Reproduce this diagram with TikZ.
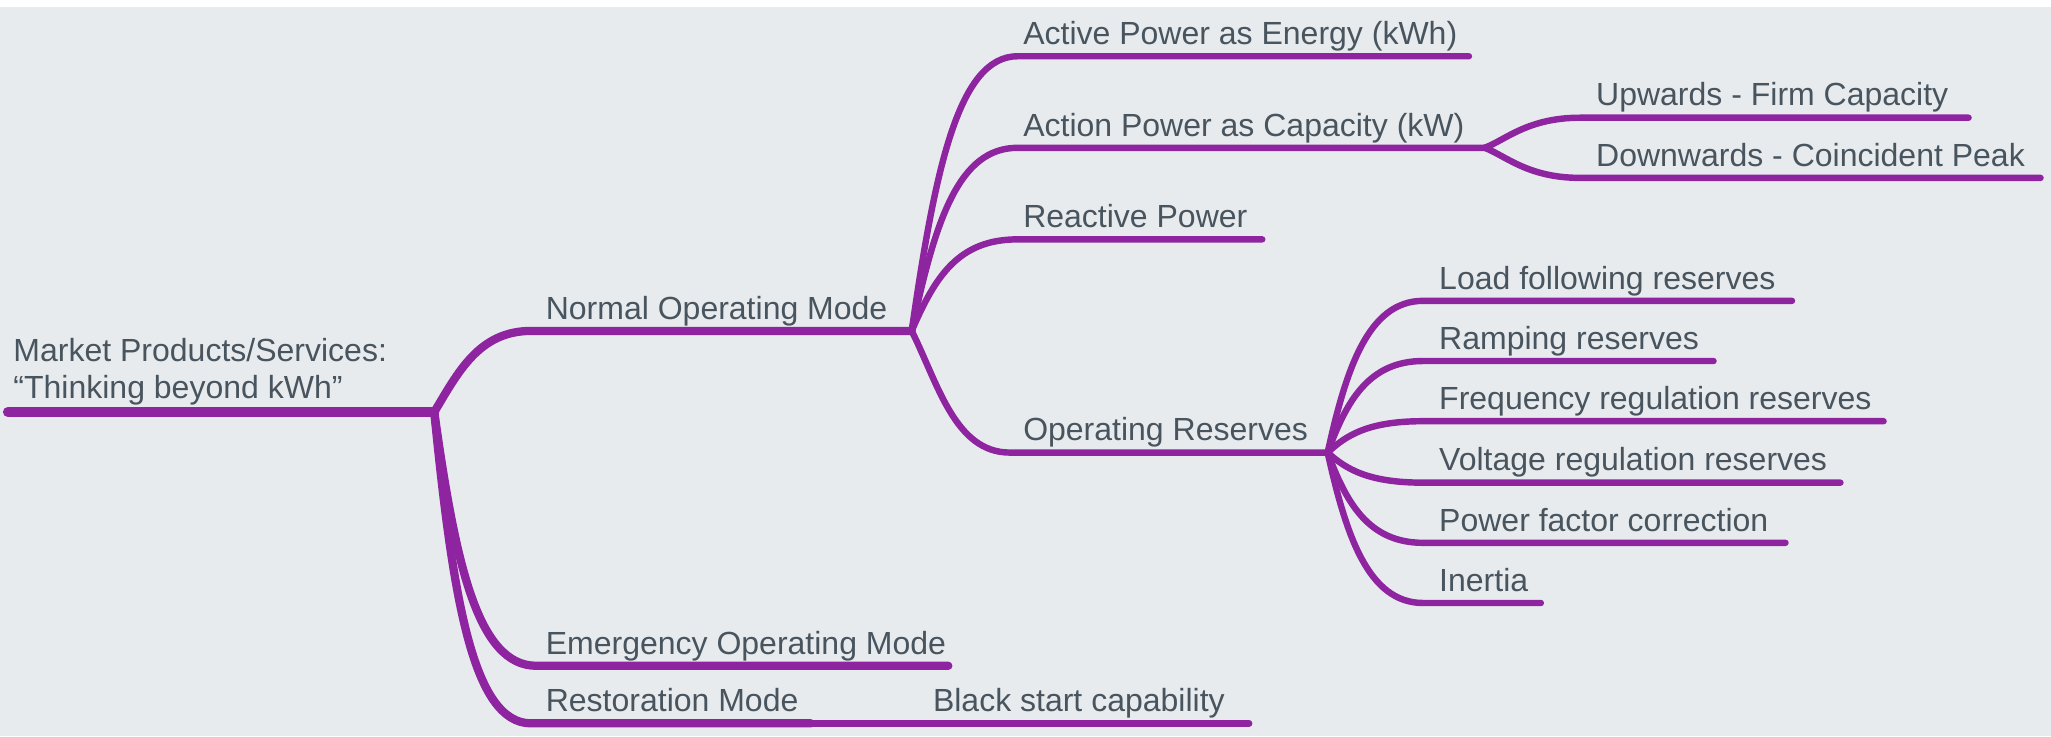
\documentclass[tikz,border=0pt]{standalone}
\usepackage{fontspec}
\setmainfont{Liberation Sans}
\usepackage{tikz}
\usetikzlibrary{positioning, calc}

\definecolor{mapline}{RGB}{142,36,160}
\definecolor{maptext}{RGB}{72,84,94}
\definecolor{mapbg}{RGB}{232,235,238}

\begin{document}
\begin{tikzpicture}[x=0.025cm, y=-0.025cm,
  lbl/.style={anchor=base west, inner sep=0pt, text=maptext, font=\fontsize{17.4}{20}\selectfont},
  br/.style={draw=mapline, line width=3.5pt, line cap=round},
  limb/.style={br, line width=4.5pt},
  trunk/.style={br, line width=5.4pt}]
  % Background
  \fill[white] (0,0) rectangle (1568,563);
  \fill[mapbg] (0,5) rectangle (1568,563);
  \useasboundingbox (0,0) rectangle (1568,563);

  % Hubs
  \coordinate (rootS) at (6,315);
  \coordinate (rootE) at (332,315);
  \coordinate (nomE) at (697,253);
  \coordinate (capE) at (1135,113);
  \coordinate (resE) at (1015,346);

  % Root
  \node[lbl] (rootA) at (10,276) {Market Products/Services:};
  \node[lbl] (rootB) at (10,305) {“Thinking beyond kWh”};
  \draw[trunk] (rootS) -- (rootE);

  % Modes
  \coordinate (nomS) at (406,253);
  \node[lbl] (nom) at (417,244) {Normal Operating Mode};
  \draw[limb] (rootE) .. controls +(18,-30) and +(-40,0) .. (nomS) -- (nomE);

  \coordinate (emgS) at (410,509);
  \coordinate (emgE) at (725,509);
  \node[lbl] (emg) at (417,500) {Emergency Operating Mode};
  \draw[limb] (rootE) .. controls +(16,115) and +(-45,0) .. (emgS) -- (emgE);

  \coordinate (rstS) at (406,553);
  \coordinate (rstE) at (620,553);
  \coordinate (bscE) at (955,553);
  \node[lbl] (rst) at (417,544) {Restoration Mode};
  \node[lbl] (bsc) at (713,544) {Black start capability};
  \draw[limb] (rootE) .. controls +(14,140) and +(-45,0) .. (rstS) -- (rstE);
  \draw[br] (rstE) -- (bscE);

  % Normal operating mode
  \coordinate (actS) at (778,43);
  \coordinate (actE) at (1123,43);
  \node[lbl] (act) at (782,34) {Active Power as Energy (kWh)};
  \draw[br] (nomE) .. controls +(18,-125) and +(-45,0) .. (actS) -- (actE);

  \coordinate (capS) at (778,113);
  \node[lbl] (cap) at (782,104) {Action Power as Capacity (kW)};
  \draw[br] (nomE) .. controls +(18,-85) and +(-45,0) .. (capS) -- (capE);

  \coordinate (reaS) at (778,183);
  \coordinate (reaE) at (965,183);
  \node[lbl] (rea) at (782,174) {Reactive Power};
  \draw[br] (nomE) .. controls +(18,-42) and +(-45,0) .. (reaS) -- (reaE);

  \coordinate (opsS) at (772,346);
  \node[lbl] (ops) at (782,337) {Operating Reserves};
  \draw[br] (nomE) .. controls +(20,40) and +(-42,0) .. (opsS) -- (resE);

  % Capacity
  \coordinate (upS) at (1208,90);
  \coordinate (upE) at (1505,90);
  \node[lbl] (up) at (1220,81) {Upwards - Firm Capacity};
  \draw[br] (capE) .. controls +(16,-6) and +(-40,0) .. (upS) -- (upE);

  \coordinate (dnS) at (1208,136);
  \coordinate (dnE) at (1560,136);
  \node[lbl] (dn) at (1220,127) {Downwards - Coincident Peak};
  \draw[br] (capE) .. controls +(16,6) and +(-40,0) .. (dnS) -- (dnE);

  % Operating reserves
  \foreach \nm/\y/\len/\txt in {lfr/230/1370/Load following reserves,
      rmp/276/1310/Ramping reserves,
      frq/322/1440/Frequency regulation reserves,
      vlt/369/1407/Voltage regulation reserves,
      pfc/415/1365/Power factor correction,
      ine/461/1178/Inertia}{
    \pgfmathsetmacro{\dy}{0.55*(\y-346)}
    \coordinate (\nm S) at (1088,\y);
    \coordinate (\nm E) at (\len,\y);
    \node[lbl] (\nm) at (1100,\y-9) {\txt};
    \draw[br] (resE) .. controls +(14,\dy) and +(-42,0) .. (\nm S) -- (\nm E);
  }
\end{tikzpicture}
\end{document}
